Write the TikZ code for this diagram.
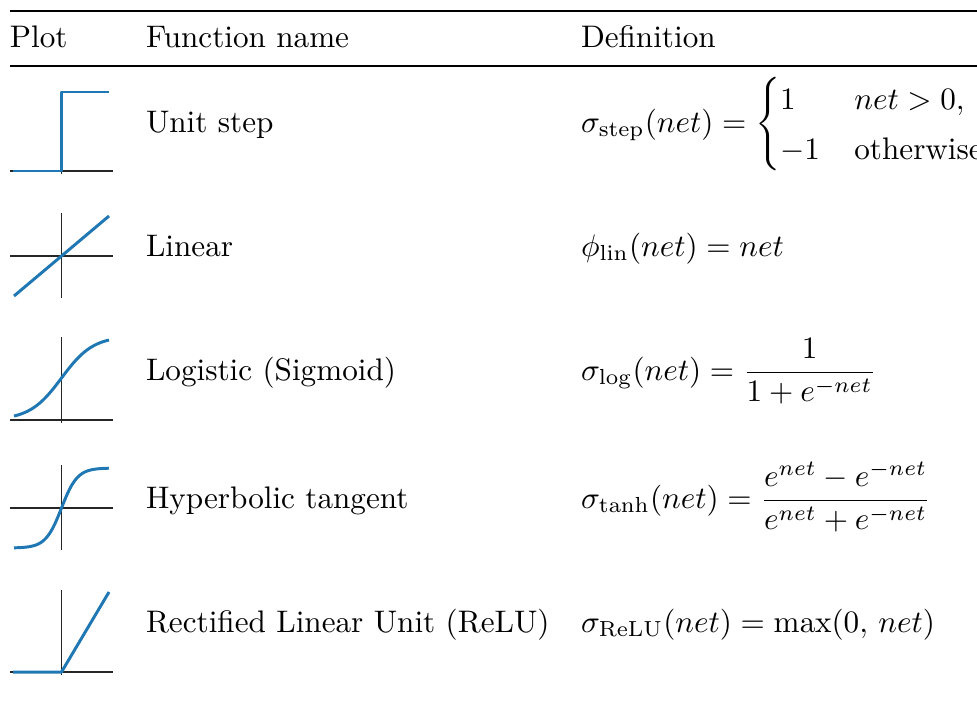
\documentclass[tikz,border=0pt]{standalone}
\usepackage{amsmath}
\definecolor{curveblue}{HTML}{1F77B4}
\begin{document}
\begin{tikzpicture}[x=0.3208pt,y=-0.3208pt,
  txt/.style={anchor=base west,inner sep=0pt,outer sep=0pt},
  fn/.style={draw=curveblue,line width=0.95pt,line join=round},
  axis/.style={draw=black!85,line width=0.45pt},
  toprule/.style={line width=0.7pt},
  midrule/.style={line width=0.45pt}]
\useasboundingbox (0,0) rectangle (977,716);

% table rules
\coordinate (tl) at (10,11);  \coordinate (tr) at (1000,11);
\coordinate (ml) at (10,66);  \coordinate (mr) at (1000,66);
\draw[toprule] (tl) -- (tr);
\draw[midrule] (ml) -- (mr);

% header
\node[txt] (hplot) at (10,47) {Plot};
\node[txt] (hname) at (146,47) {Function name};
\node[txt] (hdef)  at (581,47) {Definition};

% function names
\node[txt] (nstep) at (146,132) {Unit step};
\node[txt] (nlin)  at (146,256) {Linear};
\node[txt] (nlog)  at (146,380) {Logistic (Sigmoid)};
\node[txt] (ntanh) at (146,508) {Hyperbolic tangent};
\node[txt] (nrelu) at (146,632) {Rectified Linear Unit (ReLU)};

% definitions
\node[txt] (dstep) at (581,132) {$\sigma_{\mathrm{step}}(net) =
  \left\{\def\arraystretch{1.33}\begin{array}{@{}l@{\hspace{11pt}}l@{}}
    1 & net > 0,\\ -1 & \text{otherwise.}\end{array}\right.$};
\node[txt] (dlin)  at (581,256) {$\phi_{\mathrm{lin}}(net) = net$};
\node[txt] (dlog)  at (581,380) {$\sigma_{\mathrm{log}}(net) = \dfrac{1}{1+e^{-net}}$};
\node[txt] (dtanh) at (581,508) {$\sigma_{\mathrm{tanh}}(net) = \dfrac{e^{net}-e^{-net}}{e^{net}+e^{-net}}$};
\node[txt] (drelu) at (581,632) {$\sigma_{\mathrm{ReLU}}(net) = \max(0,\, net)$};

% unit step
\begin{scope}[shift={(61.5,171)}]
  \draw[axis] (-51.5,0) -- (51.5,0);
  \draw[axis] (0,3) -- (0,-79);
  \draw[fn] (-48.5,0) -- (0,0) -- (0,-79) -- (47.5,-79);
\end{scope}

% linear
\begin{scope}[shift={(61.5,256)}]
  \draw[axis] (-51.5,0) -- (51.5,0);
  \draw[axis] (0,42) -- (0,-43);
  \draw[fn] plot[domain=-3:3,samples=2] ({15.83*\x},{-13.33*\x});
\end{scope}

% logistic
\begin{scope}[shift={(61.5,420)}]
  \draw[axis] (-51.5,0) -- (51.5,0);
  \draw[axis] (0,3) -- (0,-83);
  \draw[fn] plot[smooth,domain=-3:3,samples=61] ({15.83*\x},{-84/(1+exp(-\x))});
\end{scope}

% hyperbolic tangent
\begin{scope}[shift={(61.5,508)}]
  \draw[axis] (-51.5,0) -- (51.5,0);
  \draw[axis] (0,42) -- (0,-43);
  \draw[fn] plot[smooth,domain=-3:3,samples=61] ({15.83*\x},{-40*tanh(\x)});
\end{scope}

% ReLU
\begin{scope}[shift={(61.5,672)}]
  \draw[axis] (-51.5,0) -- (51.5,0);
  \draw[axis] (0,3) -- (0,-82);
  \draw[fn] (-48.5,0) -- (0,0) -- (47.5,-80);
\end{scope}
\end{tikzpicture}
\end{document}
